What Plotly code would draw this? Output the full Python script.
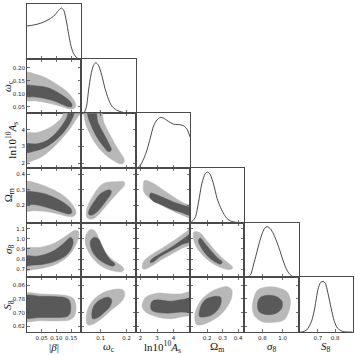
import plotly.graph_objects as go

# ---------------- parameters / axes ----------------
PARAM_LABELS = ["|<i>β</i>|", "<i>ω</i><sub>c</sub>", "ln10<sup>10</sup><i>A</i><sub>s</sub>",
                "Ω<sub>m</sub>", "<i>σ</i><sub>8</sub>", "<i>S</i><sub>8</sub>"]
RANGE_BETA = [0.0, 0.185]
RANGE_OMC = [0.025, 0.235]
RANGE_LNA = [1.7, 5.0]
RANGE_OM = [0.09, 0.44]
RANGE_SIG8 = [0.62, 1.16]
RANGE_S8 = [0.588, 0.905]
RANGES = [RANGE_BETA, RANGE_OMC, RANGE_LNA, RANGE_OM, RANGE_SIG8, RANGE_S8]

XTICK_VALS = [[0.05, 0.10, 0.15], [0.1, 0.2], [2, 3, 4], [0.2, 0.3, 0.4], [0.8, 1.0], [0.7, 0.8]]
XTICK_TEXT = [["0.05", "0.10", "0.15"], ["0.1", "0.2"], ["2", "3", "4"], ["0.2", "0.3", "0.4"],
              ["0.8", "1.0"], ["0.7", "0.8"]]
YTICK_VALS = [[], [0.05, 0.10, 0.15, 0.20], [2, 3, 4], [0.2, 0.3, 0.4], [0.7, 0.8, 0.9, 1.0, 1.1],
              [0.62, 0.70, 0.78, 0.86]]
YTICK_TEXT = [[], ["0.05", "0.10", "0.15", "0.20"], ["2", "3", "4"], ["0.2", "0.3", "0.4"],
              ["0.7", "0.8", "0.9", "1.0", "1.1"], ["0.62", "0.70", "0.78", "0.86"]]

# ---------------- 1D marginals (relative density) ----------------
BETA_GRID = [0, 0.0227, 0.0454, 0.0681, 0.0908, 0.108, 0.117, 0.125, 0.134, 0.142, 0.150, 0.159, 0.168, 0.176, 0.185]
BETA_PDF = [0.645, 0.665, 0.698, 0.755, 0.84, 0.957, 1.0, 0.957, 0.745, 0.479, 0.245, 0.096, 0.027, 0.0, 0.0]
OMC_GRID = [0.025, 0.0339, 0.0441, 0.053, 0.0619, 0.0721, 0.081, 0.0912, 0.1039, 0.1166, 0.1294, 0.1421,
            0.1612, 0.1803, 0.1994, 0.2248, 0.235]
OMC_PDF = [0, 0, 0.117, 0.457, 0.755, 0.947, 1.0, 0.947, 0.755, 0.489, 0.287, 0.149, 0.064, 0.027, 0.006, 0, 0]
LNA_GRID = [1.7, 1.78, 1.98, 2.19, 2.39, 2.59, 2.79, 3.0, 3.2, 3.4, 3.6, 3.81, 4.01, 4.21, 4.41, 4.62, 4.82, 5.0]
LNA_PDF = [0, 0, 0.054, 0.184, 0.357, 0.595, 0.832, 0.951, 1.0, 0.984, 0.941, 0.897, 0.865, 0.859, 0.854,
           0.832, 0.768, 0.616]
OM_GRID = [0.09, 0.094, 0.123, 0.145, 0.167, 0.188, 0.204, 0.221, 0.243, 0.265, 0.287, 0.309, 0.33, 0.352,
           0.385, 0.418, 0.44]
OM_PDF = [0, 0, 0.099, 0.407, 0.78, 0.967, 1.0, 0.945, 0.747, 0.473, 0.297, 0.165, 0.077, 0.033, 0.007, 0, 0]
SIG8_GRID = [0.62, 0.64, 0.68, 0.71, 0.74, 0.77, 0.80, 0.825, 0.85, 0.88, 0.91, 0.94, 0.97, 1.0, 1.03, 1.06,
             1.09, 1.12, 1.15]
SIG8_PDF = [0, 0, 0.044, 0.242, 0.462, 0.692, 0.879, 0.978, 1.0, 0.956, 0.857, 0.714, 0.549, 0.363, 0.198,
            0.088, 0.027, 0.005, 0]
S8_GRID = [0.59, 0.607, 0.635, 0.663, 0.682, 0.701, 0.716, 0.73, 0.743, 0.758, 0.777, 0.796, 0.814, 0.843,
           0.871, 0.9]
S8_PDF = [0, 0, 0.04, 0.211, 0.478, 0.844, 0.978, 1.0, 0.967, 0.778, 0.478, 0.211, 0.078, 0.013, 0, 0]
MARGINALS = [(BETA_GRID, BETA_PDF), (OMC_GRID, OMC_PDF), (LNA_GRID, LNA_PDF),
             (OM_GRID, OM_PDF), (SIG8_GRID, SIG8_PDF), (S8_GRID, S8_PDF)]

# ---------------- 2D contours (95% outer, 68% inner), data units ----------------
BETA_OMC_95_X = [-0.01, 0.034, 0.068, 0.102, 0.131, 0.150, 0.161, 0.166, 0.161, 0.148, 0.125, 0.096, 0.062, 0.028, -0.01]
BETA_OMC_95_Y = [0.181, 0.174, 0.159, 0.136, 0.114, 0.092, 0.073, 0.054, 0.044, 0.041, 0.048, 0.058, 0.067, 0.073, 0.077]
BETA_OMC_68_X = [-0.01, 0.034, 0.062, 0.091, 0.119, 0.142, 0.153, 0.152, 0.142, 0.119, 0.091, 0.057, 0.028, -0.01]
BETA_OMC_68_Y = [0.13, 0.13, 0.126, 0.114, 0.095, 0.076, 0.060, 0.050, 0.050, 0.060, 0.073, 0.083, 0.088, 0.092]

BETA_LNA_95_X = [-0.01, 0.034, 0.068, 0.096, 0.119, 0.128, 0.2, 0.176, 0.165, 0.142, 0.113, 0.085, 0.057, 0.028, -0.01]
BETA_LNA_95_Y = [3.76, 3.84, 4.06, 4.36, 4.76, 5.2, 5.2, 4.85, 4.56, 3.96, 3.36, 2.86, 2.46, 2.2, 2.06]
BETA_LNA_68_X = [-0.01, 0.034, 0.068, 0.096, 0.119, 0.136, 0.143, 0.163, 0.161, 0.148, 0.125, 0.096, 0.068, 0.034, -0.01]
BETA_LNA_68_Y = [3.12, 3.16, 3.36, 3.76, 4.26, 4.76, 5.2, 5.2, 5.0, 4.46, 3.86, 3.36, 3.0, 2.76, 2.66]

BETA_OM_95_X = [-0.01, 0.045, 0.091, 0.131, 0.153, 0.165, 0.166, 0.159, 0.142, 0.119, 0.091, 0.057, 0.023, -0.01]
BETA_OM_95_Y = [0.35, 0.335, 0.30, 0.253, 0.21, 0.172, 0.146, 0.131, 0.129, 0.139, 0.152, 0.163, 0.167, 0.167]
BETA_OM_68_X = [-0.01, 0.034, 0.068, 0.102, 0.131, 0.150, 0.152, 0.142, 0.119, 0.091, 0.057, 0.023, -0.01]
BETA_OM_68_Y = [0.285, 0.285, 0.27, 0.243, 0.21, 0.178, 0.152, 0.146, 0.157, 0.174, 0.193, 0.206, 0.21]

BETA_SIG8_95_X = [-0.01, 0.045, 0.091, 0.125, 0.148, 0.165, 0.174, 0.177, 0.172, 0.161, 0.142, 0.119, 0.091, 0.057, 0.023, -0.01]
BETA_SIG8_95_Y = [0.90, 0.916, 0.955, 1.013, 1.061, 1.084, 1.077, 1.045, 0.981, 0.91, 0.835, 0.781, 0.739, 0.713, 0.697, 0.69]
BETA_SIG8_68_X = [-0.01, 0.034, 0.068, 0.096, 0.119, 0.136, 0.148, 0.154, 0.157, 0.15, 0.136, 0.113, 0.085, 0.051, 0.023, -0.01]
BETA_SIG8_68_Y = [0.826, 0.829, 0.852, 0.89, 0.942, 0.987, 1.013, 1.003, 0.965, 0.9, 0.845, 0.80, 0.768, 0.748, 0.742, 0.739]

BETA_S8_95_X = [-0.01, 0.05, 0.10, 0.14, 0.158, 0.165, 0.167, 0.165, 0.158, 0.145, 0.12, 0.08, 0.04, -0.01]
BETA_S8_95_Y = [0.808, 0.808, 0.805, 0.797, 0.782, 0.757, 0.727, 0.697, 0.672, 0.658, 0.653, 0.652, 0.653, 0.653]
BETA_S8_68_X = [-0.01, 0.05, 0.10, 0.13, 0.143, 0.148, 0.149, 0.146, 0.138, 0.12, 0.08, 0.04, -0.01]
BETA_S8_68_Y = [0.795, 0.795, 0.793, 0.787, 0.774, 0.75, 0.72, 0.695, 0.679, 0.673, 0.672, 0.672, 0.672]

OMC_LNA_95_X = [0.0355, 0.0985, 0.113, 0.134, 0.155, 0.176, 0.189, 0.191, 0.185, 0.172, 0.151, 0.126, 0.101, 0.0775, 0.0586, 0.0439, 0.0376]
OMC_LNA_95_Y = [5.2, 5.2, 4.41, 3.75, 3.15, 2.62, 2.29, 2.10, 1.96, 1.96, 2.13, 2.39, 2.76, 3.22, 3.75, 4.27, 4.67]
OMC_LNA_68_X = [0.049, 0.079, 0.088, 0.103, 0.12, 0.134, 0.141, 0.136, 0.126, 0.113, 0.094, 0.075, 0.061, 0.052]
OMC_LNA_68_Y = [5.2, 5.2, 4.51, 4.01, 3.52, 3.09, 2.82, 2.69, 2.72, 2.95, 3.35, 3.85, 4.34, 4.74]

OMC_OM_95_X = [0.0439, 0.046, 0.0565, 0.0712, 0.088, 0.1048, 0.1258, 0.1615, 0.1888, 0.193, 0.1888, 0.172, 0.151, 0.13, 0.109, 0.088, 0.0712, 0.0544, 0.046]
OMC_OM_95_Y = [0.1425, 0.1775, 0.223, 0.265, 0.307, 0.335, 0.349, 0.3525, 0.3525, 0.342, 0.321, 0.293, 0.2545, 0.216, 0.174, 0.1355, 0.1145, 0.1145, 0.125]
OMC_OM_68_X = [0.0523, 0.0628, 0.0796, 0.0964, 0.1132, 0.1342, 0.1405, 0.1384, 0.1237, 0.1048, 0.0859, 0.067, 0.0565]
OMC_OM_68_Y = [0.153, 0.195, 0.237, 0.272, 0.29, 0.30, 0.293, 0.272, 0.237, 0.195, 0.16, 0.139, 0.139]

OMC_SIG8_95_X = [0.0492, 0.0403, 0.0439, 0.0657, 0.0975, 0.1357, 0.1802, 0.1892, 0.1842, 0.1485, 0.1166, 0.0975, 0.0849, 0.072, 0.0569]
OMC_SIG8_95_Y = [1.0655, 1.017, 0.919, 0.821, 0.74, 0.692, 0.675, 0.692, 0.724, 0.789, 0.871, 0.968, 1.049, 1.088, 1.088]
OMC_SIG8_68_X = [0.0657, 0.0594, 0.0657, 0.0849, 0.1166, 0.1485, 0.1548, 0.1357, 0.1206, 0.104, 0.0912, 0.0758]
OMC_SIG8_68_Y = [1.0, 0.968, 0.887, 0.815, 0.757, 0.731, 0.75, 0.796, 0.854, 0.935, 1.0, 1.017]

OMC_S8_95_X = [0.0441, 0.0492, 0.072, 0.1103, 0.1548, 0.1867, 0.193, 0.1802, 0.1422, 0.0975, 0.0657, 0.0492]
OMC_S8_95_Y = [0.6495, 0.7167, 0.7744, 0.8166, 0.8359, 0.8321, 0.8032, 0.7649, 0.7167, 0.659, 0.6302, 0.6302]
OMC_S8_68_X = [0.0657, 0.072, 0.0975, 0.1294, 0.1422, 0.1357, 0.1103, 0.0849, 0.0695]
OMC_S8_68_Y = [0.6783, 0.736, 0.7744, 0.7896, 0.7744, 0.736, 0.6974, 0.6688, 0.6647]

LNA_OM_95_X = [2.205, 2.307, 2.812, 3.419, 4.03, 4.637, 5.165, 5.165, 4.432, 3.825, 3.116, 2.509, 2.205, 2.165]
LNA_OM_95_Y = [0.356, 0.361, 0.339, 0.296, 0.253, 0.215, 0.1915, 0.118, 0.1415, 0.1716, 0.2104, 0.2489, 0.2853, 0.3284]
LNA_OM_68_X = [2.611, 2.812, 3.419, 4.03, 4.637, 5.165, 5.165, 4.432, 3.825, 3.218, 2.713, 2.551]
LNA_OM_68_Y = [0.279, 0.2748, 0.2489, 0.2209, 0.1996, 0.1775, 0.1355, 0.1565, 0.1782, 0.2059, 0.2318, 0.2577]

LNA_SIG8_95_X = [2.096, 2.195, 2.69, 3.35, 4.01, 4.67, 5.165, 5.165, 4.505, 3.845, 3.185, 2.69, 2.294, 2.129]
LNA_SIG8_95_Y = [0.7334, 0.782, 0.8468, 0.9116, 0.9818, 1.0574, 1.1168, 0.9548, 0.9062, 0.8468, 0.7874, 0.7334, 0.701, 0.7064]
LNA_SIG8_68_X = [2.591, 2.855, 3.35, 4.01, 4.67, 5.165, 5.165, 4.505, 3.845, 3.185, 2.756, 2.591]
LNA_SIG8_68_Y = [0.782, 0.8198, 0.8684, 0.9332, 1.0088, 1.0628, 0.9872, 0.944, 0.8846, 0.8252, 0.7712, 0.7658]

LNA_S8_95_X = [2.106, 2.307, 3.017, 3.825, 4.432, 5.165, 5.165, 4.432, 3.825, 3.017, 2.307, 2.106]
LNA_S8_95_Y = [0.7513, 0.7896, 0.8128, 0.809, 0.809, 0.8194, 0.6958, 0.6745, 0.6647, 0.6745, 0.7034, 0.7322]
LNA_S8_68_X = [2.611, 2.713, 3.017, 3.825, 4.637, 5.165, 5.165, 4.432, 3.624, 2.914, 2.65]
LNA_S8_68_Y = [0.7417, 0.7668, 0.7744, 0.7668, 0.7782, 0.7814, 0.7085, 0.7034, 0.6974, 0.7034, 0.7167]

OM_SIG8_95_X = [0.1163, 0.1556, 0.1994, 0.2542, 0.3088, 0.3525, 0.3656, 0.3525, 0.3088, 0.2431, 0.1775, 0.1338, 0.1119]
OM_SIG8_95_Y = [1.0682, 1.0585, 0.9802, 0.8787, 0.7966, 0.741, 0.715, 0.6983, 0.7053, 0.7507, 0.8295, 0.9143, 1.0029]
OM_SIG8_68_X = [0.1556, 0.1842, 0.2279, 0.2717, 0.2979, 0.2869, 0.2496, 0.1994, 0.1621, 0.1446]
OM_SIG8_68_Y = [1.0093, 0.9602, 0.8787, 0.8063, 0.7707, 0.7507, 0.7739, 0.836, 0.9143, 0.9802]

OM_S8_95_X = [0.1229, 0.1229, 0.1556, 0.2104, 0.2759, 0.3306, 0.3592, 0.3569, 0.3306, 0.2869, 0.2213, 0.1667, 0.1338]
OM_S8_95_Y = [0.6495, 0.6974, 0.7649, 0.8128, 0.8416, 0.8511, 0.8321, 0.7839, 0.736, 0.6879, 0.6495, 0.6302, 0.6302]
OM_S8_68_X = [0.1513, 0.1556, 0.1884, 0.2431, 0.2869, 0.2913, 0.2759, 0.2321, 0.1775]
OM_S8_68_Y = [0.6783, 0.7262, 0.7744, 0.7934, 0.7896, 0.7649, 0.7262, 0.6879, 0.6745]

SIG8_S8_95_X = [0.7021, 0.7507, 0.849, 0.9634, 1.0455, 1.0779, 1.0617, 1.0126, 0.9143, 0.7998, 0.728, 0.7021]
SIG8_S8_95_Y = [0.7532, 0.8302, 0.8492, 0.8435, 0.8204, 0.7725, 0.7053, 0.6571, 0.6438, 0.6476, 0.6764, 0.7148]
SIG8_S8_68_X = [0.7507, 0.7739, 0.849, 0.9472, 0.9964, 0.9899, 0.931, 0.8328, 0.7674]
SIG8_S8_68_Y = [0.7436, 0.7858, 0.8013, 0.7915, 0.763, 0.7243, 0.6955, 0.6898, 0.7053]

CONTOURS = {
    (1, 0): (BETA_OMC_95_X, BETA_OMC_95_Y, BETA_OMC_68_X, BETA_OMC_68_Y),
    (2, 0): (BETA_LNA_95_X, BETA_LNA_95_Y, BETA_LNA_68_X, BETA_LNA_68_Y),
    (3, 0): (BETA_OM_95_X, BETA_OM_95_Y, BETA_OM_68_X, BETA_OM_68_Y),
    (4, 0): (BETA_SIG8_95_X, BETA_SIG8_95_Y, BETA_SIG8_68_X, BETA_SIG8_68_Y),
    (5, 0): (BETA_S8_95_X, BETA_S8_95_Y, BETA_S8_68_X, BETA_S8_68_Y),
    (2, 1): (OMC_LNA_95_X, OMC_LNA_95_Y, OMC_LNA_68_X, OMC_LNA_68_Y),
    (3, 1): (OMC_OM_95_X, OMC_OM_95_Y, OMC_OM_68_X, OMC_OM_68_Y),
    (4, 1): (OMC_SIG8_95_X, OMC_SIG8_95_Y, OMC_SIG8_68_X, OMC_SIG8_68_Y),
    (5, 1): (OMC_S8_95_X, OMC_S8_95_Y, OMC_S8_68_X, OMC_S8_68_Y),
    (3, 2): (LNA_OM_95_X, LNA_OM_95_Y, LNA_OM_68_X, LNA_OM_68_Y),
    (4, 2): (LNA_SIG8_95_X, LNA_SIG8_95_Y, LNA_SIG8_68_X, LNA_SIG8_68_Y),
    (5, 2): (LNA_S8_95_X, LNA_S8_95_Y, LNA_S8_68_X, LNA_S8_68_Y),
    (4, 3): (OM_SIG8_95_X, OM_SIG8_95_Y, OM_SIG8_68_X, OM_SIG8_68_Y),
    (5, 3): (OM_S8_95_X, OM_S8_95_Y, OM_S8_68_X, OM_S8_68_Y),
    (5, 4): (SIG8_S8_95_X, SIG8_S8_95_Y, SIG8_S8_68_X, SIG8_S8_68_Y),
}

# ---------------- styling ----------------
N = 6
W = H = 355
ML, MR, MT, MB = 27, 2, 4, 23
LIGHT = "#b8b8b8"
DARK = "#595959"
FRAME = "#4a4a4a"
TICKFONT = dict(family="DejaVu Sans", size=5.5, color="#222222")
TITLEFONT = dict(family="Liberation Serif", size=11, color="#111111")
YTITLE_PX = [0, 8, 12, 9, 9, 8]

fig = go.Figure()
layout = dict(width=W, height=H, margin=dict(l=ML, r=MR, t=MT, b=MB, autoexpand=False),
              paper_bgcolor="white", plot_bgcolor="white", showlegend=False)

k = 0
extra = 40
for i in range(N):
    for j in range(i + 1):
        k += 1
        xs = "" if k == 1 else str(k)
        xdom = [j / N, (j + 1) / N]
        ydom = [1 - (i + 1) / N, 1 - i / N]
        diag = (i == j)
        layout["xaxis" + xs] = dict(
            domain=xdom, anchor="y" + xs, range=RANGES[j],
            tickmode="array", tickvals=XTICK_VALS[j], ticktext=XTICK_TEXT[j],
            showticklabels=(i == N - 1), tickangle=0, automargin=False,
            ticks="inside", ticklen=3, tickwidth=0.8,
            tickcolor=FRAME, mirror=(True if diag else "ticks"), showline=True,
            linecolor=FRAME, linewidth=1, showgrid=False, zeroline=False,
            tickfont=TICKFONT, fixedrange=True)
        if diag:
            layout["yaxis" + xs] = dict(
                domain=ydom, anchor="x" + xs, range=[0, 1.08], showticklabels=False,
                automargin=False, ticks="", mirror=True, showline=True, linecolor=FRAME,
                linewidth=1, showgrid=False, zeroline=False, fixedrange=True)
            if i > 0:
                extra += 1
                layout["yaxis" + str(extra)] = dict(
                    overlaying="y" + xs, anchor="x" + xs, range=RANGES[i],
                    tickmode="array", tickvals=YTICK_VALS[i], showticklabels=False,
                    automargin=False, ticks="inside", ticklen=3, tickwidth=0.8, tickcolor=FRAME,
                    mirror="ticks", showline=False, showgrid=False, zeroline=False,
                    fixedrange=True)
            gx, gy = MARGINALS[i]
            fig.add_trace(go.Scatter(x=gx, y=gy, mode="lines", xaxis="x" + xs, yaxis="y" + xs,
                                     line=dict(color="#333333", width=0.9, shape="spline", smoothing=0.8),
                                     hoverinfo="skip"))
        else:
            layout["yaxis" + xs] = dict(
                domain=ydom, anchor="x" + xs, range=RANGES[i],
                tickmode="array", tickvals=YTICK_VALS[i], ticktext=YTICK_TEXT[i],
                showticklabels=(j == 0), automargin=False, ticks="inside", ticklen=3,
                tickwidth=0.8, tickcolor=FRAME, mirror="ticks", showline=True,
                linecolor=FRAME, linewidth=1, showgrid=False, zeroline=False,
                tickfont=TICKFONT, fixedrange=True)
            x95, y95, x68, y68 = CONTOURS[(i, j)]
            for cx, cy, col in ((x95, y95, LIGHT), (x68, y68, DARK)):
                fig.add_trace(go.Scatter(x=list(cx) + [cx[0]], y=list(cy) + [cy[0]], mode="lines",
                                         fill="toself", fillcolor=col,
                                         line=dict(color=col, width=0.5, shape="spline", smoothing=1.0),
                                         xaxis="x" + xs, yaxis="y" + xs, hoverinfo="skip"))

fig.update_layout(**layout)

pw = W - ML - MR
ph = H - MT - MB
annotations = []
for j in range(N):
    annotations.append(dict(text=PARAM_LABELS[j], xref="paper", yref="paper",
                            x=(j + 0.5) / N, y=-(347 - (H - MB)) / ph, showarrow=False,
                            xanchor="center", yanchor="middle", font=TITLEFONT))
for i in range(1, N):
    annotations.append(dict(text=PARAM_LABELS[i], xref="paper", yref="paper",
                            x=(YTITLE_PX[i] - ML) / pw, y=1 - (i + 0.5) / N, showarrow=False,
                            textangle=-90, xanchor="center", yanchor="middle", font=TITLEFONT))
fig.update_layout(annotations=annotations)

fig.write_html("out.html", config={"displayModeBar": False, "staticPlot": True},
               post_script="document.body.style.margin='0px';document.body.style.padding='0px';")
